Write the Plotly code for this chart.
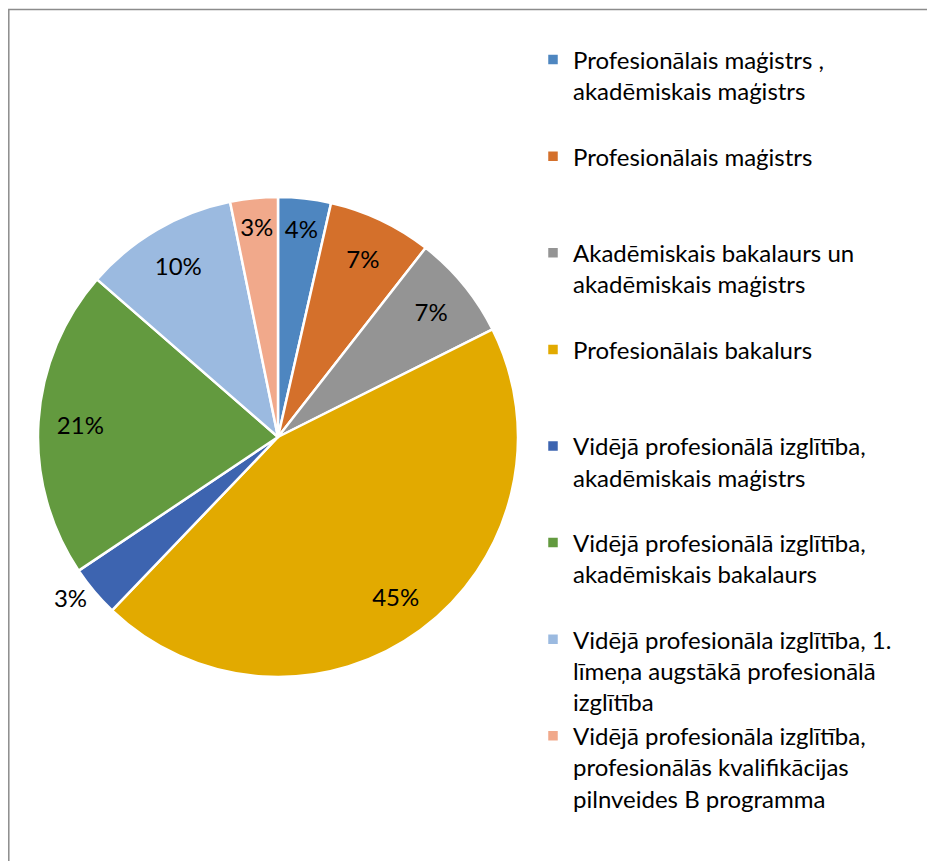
import plotly.graph_objects as go

labels = [
    "Profesionālais maģistrs ,<br>akadēmiskais maģistrs<br> ",
    "Profesionālais maģistrs<br> <br> ",
    "Akadēmiskais bakalaurs un<br>akadēmiskais maģistrs<br> ",
    "Profesionālais bakalurs<br> <br> ",
    "Vidējā profesionālā izglītība,<br>akadēmiskais maģistrs<br> ",
    "Vidējā profesionālā izglītība,<br>akadēmiskais bakalaurs<br> ",
    "Vidējā profesionāla izglītība, 1.<br>līmeņa augstākā profesionālā<br>izglītība",
    "Vidējā profesionāla izglītība,<br>profesionālās kvalifikācijas<br>pilnveides B programma",
]
values = [3.55, 7.0, 7.05, 44.55, 3.45, 20.8, 10.4, 3.2]
colors = ["#4E86C0", "#D4702B", "#949494", "#E2AA00",
          "#3D64B0", "#639A3F", "#9BBAE0", "#F1A98B"]
# which slices carry their percentage outside the pie
outside = [False, False, False, False, True, False, False, False]

W, H = 935, 861
cx, cy, r = 270, 429, 240
r_lab = 233


def dom(rad):
    return dict(x=[(cx - rad) / W, (cx + rad) / W],
                y=[1 - (cy + rad) / H, 1 - (cy - rad) / H])


pct = "%{percent:.0%}"
font = dict(family="Lato", size=24, color="black")

fig = go.Figure()
# coloured slices + legend (+ the outside label)
fig.add_trace(go.Pie(
    labels=labels,
    values=values,
    sort=False,
    direction="clockwise",
    rotation=0,
    marker=dict(colors=colors, line=dict(color="white", width=2.5)),
    texttemplate=[pct if o else "" for o in outside],
    textposition=["outside" if o else "none" for o in outside],
    textfont=font,
    domain=dom(r),
    hoverinfo="label+percent",
))
# transparent ring that carries the inside percentage labels near the rim
fig.add_trace(go.Pie(
    labels=labels,
    values=values,
    sort=False,
    direction="clockwise",
    rotation=0,
    hole=0.7,
    marker=dict(colors=["rgba(0,0,0,0)"] * len(values),
                line=dict(color="rgba(0,0,0,0)", width=0)),
    texttemplate=["" if o else pct for o in outside],
    textposition=["none" if o else "inside" for o in outside],
    insidetextorientation="horizontal",
    textfont=font,
    domain=dom(r_lab),
    showlegend=False,
    hoverinfo="skip",
))

fig.update_layout(
    width=W, height=H,
    margin=dict(l=0, r=0, t=0, b=0, autoexpand=False),
    paper_bgcolor="white", plot_bgcolor="white",
    uniformtext=dict(minsize=24, mode="show"),
    showlegend=True,
    legend=dict(
        x=525 / W, y=1 - 29.5 / H,
        xanchor="left", yanchor="top",
        valign="top",
        font=dict(family="Lato", size=24, color="black"),
        bgcolor="rgba(0,0,0,0)",
        traceorder="normal",
    ),
    shapes=[dict(type="rect", xref="paper", yref="paper",
                 x0=0.8 / W, x1=1.5, y0=-0.5, y1=1 - 1.5 / H,
                 line=dict(color="#8C8C8C", width=1.5),
                 fillcolor="rgba(0,0,0,0)")],
)

fig.write_html("out.html")
